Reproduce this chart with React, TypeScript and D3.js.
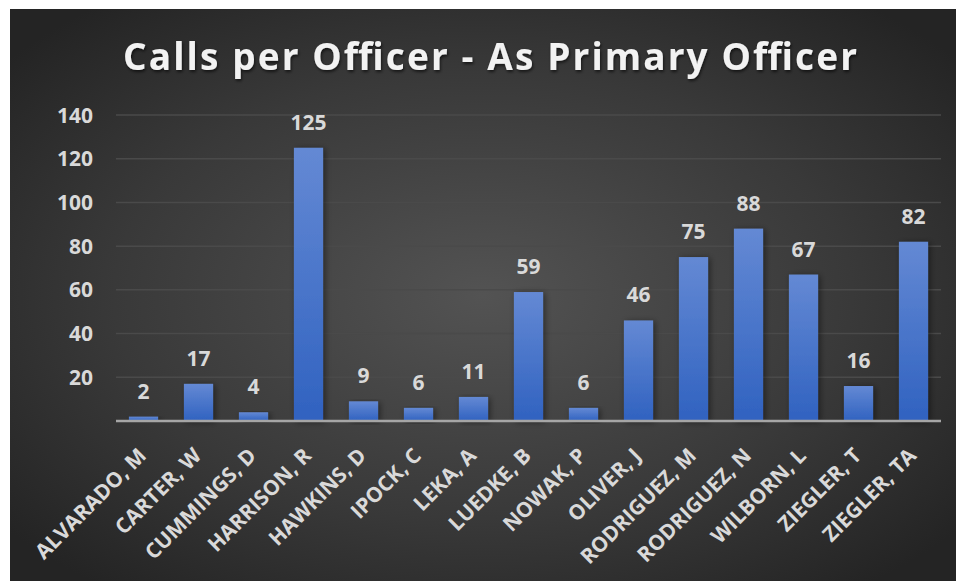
import React from "react";
import * as d3 from "d3";

const categories = [
  "ALVARADO, M", "CARTER, W", "CUMMINGS, D", "HARRISON, R", "HAWKINS, D",
  "IPOCK, C", "LEKA, A", "LUEDKE, B", "NOWAK, P", "OLIVER, J",
  "RODRIGUEZ, M", "RODRIGUEZ, N", "WILBORN, L", "ZIEGLER, T", "ZIEGLER, TA",
];
const values = [2, 17, 4, 125, 9, 6, 11, 59, 6, 46, 75, 88, 67, 16, 82];
const yTicks = [20, 40, 60, 80, 100, 120, 140];
const title = "Calls per Officer - As Primary Officer";

const W = 956, H = 581;
const FONT = "'Open Sans', 'Liberation Sans', sans-serif";

export default function App() {
  const x = d3.scaleBand<string>().domain(categories).range([116, 941]).paddingInner(0.47).paddingOuter(0.235);
  const y = d3.scaleLinear().domain([0, 140]).range([421, 115]);

  return (
    <svg width={W} height={H} style={{ position: "absolute", left: 0, top: 0, display: "block" }}>
      <defs>
        <radialGradient id="bg" cx="0.5" cy="0.5" r="0.65">
          <stop offset="0" stopColor="#535353" />
          <stop offset="0.6" stopColor="#393939" />
          <stop offset="1" stopColor="#242424" />
        </radialGradient>
        <linearGradient id="bar" x1="0" y1="0" x2="0" y2="1">
          <stop offset="0" stopColor="#6489d4" />
          <stop offset="1" stopColor="#3062c0" />
        </linearGradient>
        <filter id="shadow" x="-30%" y="-10%" width="160%" height="130%">
          <feDropShadow dx="2" dy="1" stdDeviation="3" floodColor="#000" floodOpacity="0.45" />
        </filter>
        <filter id="tshadow" x="-5%" y="-20%" width="110%" height="150%">
          <feDropShadow dx="1" dy="2" stdDeviation="1.5" floodColor="#000" floodOpacity="0.6" />
        </filter>
      </defs>
      <rect x={0} y={0} width={W} height={H} fill="#ffffff" />
      <rect x={10} y={9} width={W - 10} height={H - 9} fill="url(#bg)" />
      <text x={490} y={70} textAnchor="middle" fill="#f2f2f2" fontFamily={FONT} fontWeight={700}
        fontSize={37} textLength={734} lengthAdjust="spacing" filter="url(#tshadow)">{title}</text>
      {yTicks.map((t) => (
        <g key={t}>
          <line x1={116} x2={941} y1={y(t)} y2={y(t)} stroke="#4a4a4a" strokeWidth={1.5} />
          <text x={93} y={y(t)} dy="0.36em" textAnchor="end" fill="#d9d9d9" fontFamily={FONT}
            fontWeight={700} fontSize={21}>{t}</text>
        </g>
      ))}
      {categories.map((c, i) => (
        <g key={c}>
          <rect x={x(c)} y={y(values[i])} width={x.bandwidth()} height={y(0) - y(values[i])}
            fill="url(#bar)" filter="url(#shadow)" />
          <text x={(x(c) as number) + x.bandwidth() / 2} y={y(values[i]) - 18} textAnchor="middle"
            fill="#d9d9d9" fontFamily={FONT} fontWeight={700} fontSize={21}>{values[i]}</text>
          <text transform={`translate(${(x(c) as number) + x.bandwidth() / 2 + 4},${y(0) + 36}) rotate(-45)`}
            textAnchor="end" fill="#d9d9d9" fontFamily={FONT} fontWeight={700} fontSize={21}>{c}</text>
        </g>
      ))}
      <line x1={116} x2={941} y1={y(0)} y2={y(0)} stroke="#a6a6a6" strokeWidth={2.5} />
    </svg>
  );
}
